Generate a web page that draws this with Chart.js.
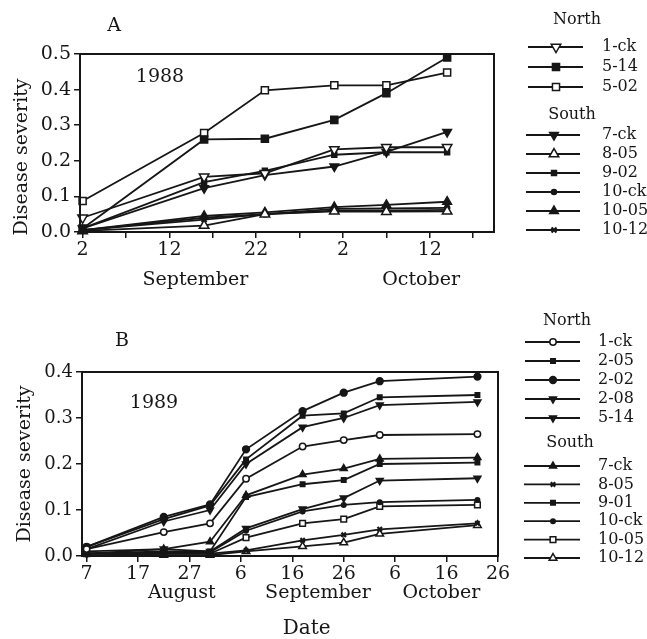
<!DOCTYPE html>
<html>
<head>
<meta charset="utf-8">
<script src="https://cdn.jsdelivr.net/npm/chart.js@4.4.0/dist/chart.umd.min.js"></script>
<style>
  html, body { margin: 0; padding: 0; background: #fff; }
  #wrap { position: relative; width: 647px; height: 639px; }
  canvas { position: absolute; left: 0; }
</style>
</head>
<body>
<div id="wrap">
  <canvas id="chartA" width="647" height="300" style="top:0"></canvas>
  <canvas id="chartB" width="647" height="339" style="top:300px"></canvas>
</div>
<script>
// ---- 1988 (panel A): x = day counted from 1 September (2 Oct = 32) ----
const daysA = [2, 16, 23, 31, 37, 44];
const a_1ck  = [0.040, 0.155, 0.165, 0.232, 0.238, 0.238];
const a_514  = [0.010, 0.260, 0.262, 0.315, 0.390, 0.490];
const a_502  = [0.087, 0.278, 0.398, 0.412, 0.412, 0.448];
const a_7ck  = [0.010, 0.123, 0.160, 0.184, 0.225, 0.281];
const a_805  = [0.003, 0.018, 0.050, 0.058, 0.057, 0.058];
const a_902  = [0.010, 0.140, 0.172, 0.217, 0.224, 0.224];
const a_10ck = [0.005, 0.040, 0.050, 0.065, 0.066, 0.068];
const a_1005 = [0.005, 0.045, 0.055, 0.070, 0.076, 0.085];
const a_1012 = [0.005, 0.035, 0.050, 0.060, 0.060, 0.062];
const tickDaysA = [2, 7, 12, 17, 22, 27, 32, 37, 42, 47];
const tickLabelsA = ['2', '', '12', '', '22', '', '2', '', '12', ''];
const monthsA = ['September', 'October'];
const monthDaysA = [15, 41];
const northA = ['1-ck', '5-14', '5-02'];
const southA = ['7-ck', '8-05', '9-02', '10-ck', '10-05', '10-12'];

// ---- 1989 (panel B): x = day counted from 1 August (6 Sep = 37, 6 Oct = 67) ----
const daysB = [7, 22, 31, 38, 49, 57, 64, 83];
const b_1ck  = [0.015, 0.052, 0.071, 0.168, 0.238, 0.252, 0.263, 0.265];
const b_205  = [0.020, 0.080, 0.110, 0.210, 0.305, 0.310, 0.345, 0.350];
const b_202  = [0.020, 0.085, 0.112, 0.232, 0.315, 0.355, 0.380, 0.390];
const b_208  = [0.015, 0.075, 0.100, 0.200, 0.280, 0.300, 0.328, 0.335];
const b_514  = [0.005, 0.015, 0.010, 0.060, 0.102, 0.126, 0.164, 0.169];
const b_7ck  = [0.010, 0.015, 0.031, 0.132, 0.177, 0.190, 0.211, 0.214];
const b_805  = [0.005, 0.005, 0.005, 0.012, 0.034, 0.046, 0.058, 0.071];
const b_901  = [0.005, 0.010, 0.010, 0.128, 0.156, 0.165, 0.200, 0.203];
const b_10ck = [0.005, 0.008, 0.008, 0.055, 0.097, 0.111, 0.117, 0.122];
const b_1005 = [0.005, 0.005, 0.005, 0.040, 0.071, 0.080, 0.108, 0.111];
const b_1012 = [0.005, 0.002, 0.002, 0.010, 0.021, 0.029, 0.048, 0.067];
const tickDaysB = [7, 17, 27, 37, 47, 57, 67, 77, 87];
const tickLabelsB = ['7', '17', '27', '6', '16', '26', '6', '16', '26'];
const monthsB = ['August', 'September', 'October'];
const monthDaysB = [25.5, 52, 76];
const northB = ['1-ck', '2-05', '2-02', '2-08', '5-14'];
const southB = ['7-ck', '8-05', '9-01', '10-ck', '10-05', '10-12'];

const FONT = 'DejaVu Serif';
const INK = '#161616';
Chart.defaults.font.family = FONT;
Chart.defaults.color = INK;

// marker styles: [pointStyle, radius, rotation, filled]
const OPEN_DOWN = ['triangle', 5.5, 180, false];
const FILL_DOWN = ['triangle', 5, 180, true];
const OPEN_UP   = ['triangle', 5.5, 0, false];
const FILL_UP   = ['triangle', 5, 0, true];
const BIG_SQ    = ['rect', 5, 0, true];
const OPEN_SQ   = ['rect', 5, 0, false];
const SMALL_SQ  = ['rect', 3.5, 0, true];
const DOT       = ['circle', 2.5, 0, true];
const FILL_CIR  = ['circle', 4, 0, true];
const OPEN_CIR  = ['circle', 4, 0, false];
const STAR      = ['crossRot', 3.5, 0, true];

function series(label, days, vals, mk, scale) {
  return {
    label: label,
    data: days.map((d, i) => ({ x: d, y: vals[i] })),
    borderColor: INK,
    borderWidth: 1.8,
    tension: 0,
    pointStyle: mk[0],
    pointRadius: mk[1] * scale,
    pointRotation: mk[2],
    pointBackgroundColor: mk[3] ? INK : '#fff',
    pointBorderColor: INK,
    pointBorderWidth: mk[0] === 'crossRot' ? 2.2 : 1.5,
    clip: false
  };
}

const setsA = [
  series('1-ck', daysA, a_1ck, OPEN_DOWN, 1),
  series('5-14', daysA, a_514, BIG_SQ, 1),
  series('5-02', daysA, a_502, OPEN_SQ, 1),
  series('7-ck', daysA, a_7ck, FILL_DOWN, 1),
  series('8-05', daysA, a_805, OPEN_UP, 1),
  series('9-02', daysA, a_902, SMALL_SQ, 1),
  series('10-ck', daysA, a_10ck, DOT, 1),
  series('10-05', daysA, a_1005, FILL_UP, 1),
  series('10-12', daysA, a_1012, STAR, 1)
];

const setsB = [
  series('1-ck', daysB, b_1ck, OPEN_CIR, 0.8),
  series('2-05', daysB, b_205, SMALL_SQ, 0.9),
  series('2-02', daysB, b_202, FILL_CIR, 0.85),
  series('2-08', daysB, b_208, FILL_DOWN, 0.8),
  series('5-14', daysB, b_514, FILL_DOWN, 0.8),
  series('7-ck', daysB, b_7ck, FILL_UP, 0.8),
  series('8-05', daysB, b_805, STAR, 0.9),
  series('9-01', daysB, b_901, SMALL_SQ, 0.9),
  series('10-ck', daysB, b_10ck, DOT, 0.9),
  series('10-05', daysB, b_1005, OPEN_SQ, 0.8),
  series('10-12', daysB, b_1012, OPEN_UP, 0.8)
];

// draws frame, titles, month names and the grouped legend
function decorPlugin(p) {
  return {
    id: 'decor',
    afterDraw(chart) {
      const ctx = chart.ctx;
      const a = chart.chartArea;
      const xs = chart.scales.x;
      ctx.save();
      ctx.strokeStyle = INK;
      ctx.lineWidth = 2;
      ctx.strokeRect(a.left, a.top, a.right - a.left, a.bottom - a.top);

      ctx.fillStyle = INK;
      ctx.textAlign = 'center';
      ctx.textBaseline = 'middle';
      ctx.font = '19px "' + FONT + '"';
      ctx.fillText(p.letter, p.letterX, p.letterY);
      ctx.fillText(p.year, p.yearX, p.yearY);
      p.months.forEach((m, i) => ctx.fillText(m, xs.getPixelForValue(p.monthDays[i]), p.monthY));
      if (p.xTitle) {
        ctx.font = '20px "' + FONT + '"';
        ctx.fillText(p.xTitle, xs.getPixelForValue(p.xTitleDay), p.xTitleY);
      }

      ctx.save();
      ctx.font = '19px "' + FONT + '"';
      ctx.translate(p.yTitleX, p.yTitleY);
      ctx.rotate(-Math.PI / 2);
      ctx.fillText('Disease severity', 0, 0);
      ctx.restore();

      // legend
      ctx.font = '16px "' + FONT + '"';
      p.groups.forEach(g => {
        ctx.textAlign = 'center';
        ctx.fillStyle = INK;
        ctx.fillText(g.title, g.titleX, g.titleY);
        g.names.forEach((name, i) => {
          const y = g.rowY + i * g.rowGap;
          const ds = chart.data.datasets.find(d => d.label === name);
          ctx.strokeStyle = INK;
          ctx.lineWidth = 1.8;
          ctx.beginPath();
          ctx.moveTo(g.x1, y);
          ctx.lineTo(g.x2, y);
          ctx.stroke();
          ctx.fillStyle = ds.pointBackgroundColor;
          ctx.strokeStyle = ds.pointBorderColor;
          ctx.lineWidth = ds.pointBorderWidth;
          Chart.helpers.drawPoint(ctx, {
            pointStyle: ds.pointStyle,
            radius: ds.pointRadius,
            rotation: ds.pointRotation,
            borderWidth: ds.pointBorderWidth
          }, g.mark, y);
          ctx.fillStyle = INK;
          ctx.textAlign = 'left';
          ctx.fillText(name, g.textX, y);
        });
      });
      ctx.restore();
    }
  };
}

function buildOptions(o) {
  return {
    responsive: false,
    animation: false,
    layout: { padding: { top: o.top, right: o.right, left: 0, bottom: 0 } },
    plugins: { legend: { display: false }, tooltip: { enabled: false } },
    scales: {
      x: {
        type: 'linear',
        min: o.xMin,
        max: o.xMax,
        afterFit: s => { s.height = o.xHeight; },
        afterBuildTicks: s => { s.ticks = o.tickDays.map(v => ({ value: v })); },
        ticks: {
          autoSkip: false,
          maxRotation: 0,
          padding: 1,
          font: { size: 19 },
          callback: v => o.tickLabels[o.tickDays.indexOf(v)] || ''
        },
        grid: { drawOnChartArea: false, tickLength: 6, color: INK, lineWidth: 1.5 },
        border: { display: false }
      },
      y: {
        min: 0,
        max: o.yMax,
        afterFit: s => { s.width = o.yWidth; },
        afterBuildTicks: s => {
          const t = [];
          for (let k = 0; k <= Math.round(o.yMax / 0.05); k++) t.push({ value: k * 0.05 });
          s.ticks = t;
        },
        ticks: {
          padding: 3,
          font: { size: o.yFont },
          callback: v => (Math.round(v * 100) % 10 === 0 ? v.toFixed(1) : '')
        },
        grid: { drawOnChartArea: false, tickLength: 6, color: INK, lineWidth: 1.5 },
        border: { display: false }
      }
    }
  };
}

new Chart(document.getElementById('chartA'), {
  type: 'line',
  data: { datasets: setsA },
  options: buildOptions({
    top: 54, right: 153, xMin: 1.7, xMax: 49.4, xHeight: 68, yWidth: 80, yMax: 0.5, yFont: 19,
    tickDays: tickDaysA, tickLabels: tickLabelsA
  }),
  plugins: [decorPlugin({
    letter: 'A', letterX: 114, letterY: 26, year: '1988', yearX: 160, yearY: 77,
    months: monthsA, monthDays: monthDaysA, monthY: 280,
    yTitleX: 22, yTitleY: 157,
    groups: [
      { title: 'North', titleX: 577, titleY: 20, names: northA, rowY: 47, rowGap: 20, x1: 528, x2: 583, mark: 556, textX: 602 },
      { title: 'South', titleX: 572, titleY: 115, names: southA, rowY: 135, rowGap: 19, x1: 526, x2: 580, mark: 554, textX: 602 }
    ]
  })]
});

new Chart(document.getElementById('chartB'), {
  type: 'line',
  data: { datasets: setsB },
  options: buildOptions({
    top: 72, right: 149, xMin: 6.1, xMax: 87, xHeight: 83, yWidth: 82, yMax: 0.4, yFont: 18,
    tickDays: tickDaysB, tickLabels: tickLabelsB
  }),
  plugins: [decorPlugin({
    letter: 'B', letterX: 122, letterY: 41, year: '1989', yearX: 154, yearY: 103,
    months: monthsB, monthDays: monthDaysB, monthY: 293,
    xTitle: 'Date', xTitleDay: 49.8, xTitleY: 329,
    yTitleX: 25, yTitleY: 164,
    groups: [
      { title: 'North', titleX: 567, titleY: 21, names: northB, rowY: 42, rowGap: 19, x1: 525, x2: 580, mark: 553, textX: 598 },
      { title: 'South', titleX: 570, titleY: 143, names: southB, rowY: 166, rowGap: 18.4, x1: 524, x2: 580, mark: 553, textX: 598 }
    ]
  })]
});
</script>
</body>
</html>
